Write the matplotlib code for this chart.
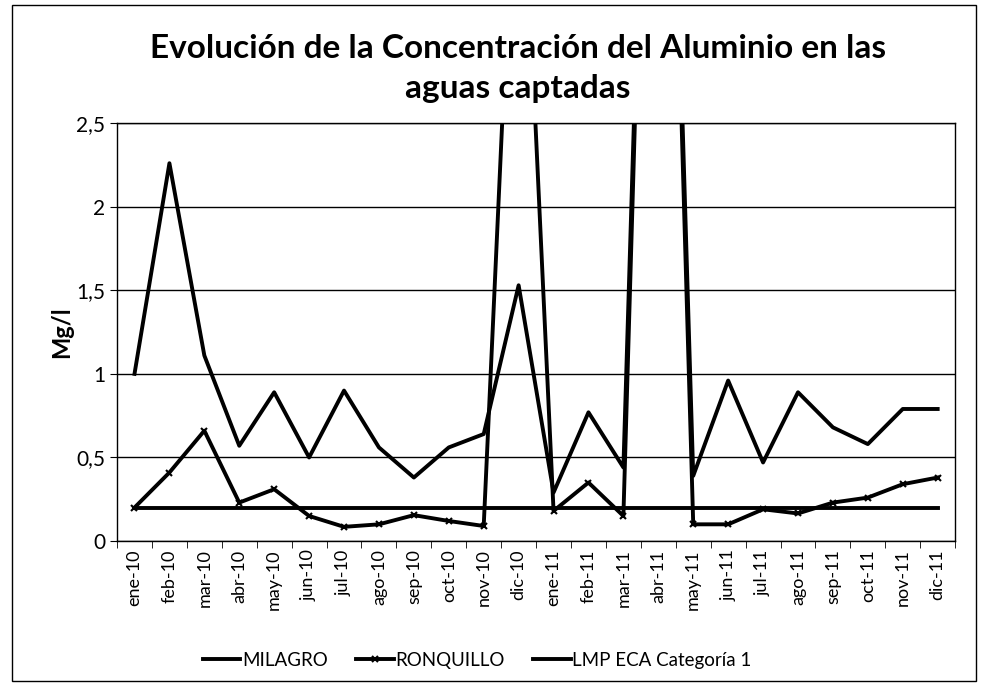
import numpy as np
import matplotlib.pyplot as plt
from matplotlib.patches import Rectangle

## data
meses = ['ene-10', 'feb-10', 'mar-10', 'abr-10', 'may-10', 'jun-10', 'jul-10', 'ago-10',
         'sep-10', 'oct-10', 'nov-10', 'dic-10', 'ene-11', 'feb-11', 'mar-11', 'abr-11',
         'may-11', 'jun-11', 'jul-11', 'ago-11', 'sep-11', 'oct-11', 'nov-11', 'dic-11']
milagro = [1.0, 2.26, 1.11, 0.57, 0.89, 0.50, 0.90, 0.56, 0.38, 0.56, 0.64, 1.53,
           0.29, 0.77, 0.44, 7.3, 0.39, 0.96, 0.47, 0.89, 0.68, 0.58, 0.79, 0.79]
ronquillo = [0.20, 0.41, 0.66, 0.23, 0.31, 0.15, 0.085, 0.10, 0.155, 0.12, 0.09, 4.65,
             0.18, 0.35, 0.15, 7.3, 0.10, 0.10, 0.19, 0.165, 0.23, 0.26, 0.34, 0.38]
lmp = [0.2] * 24

plt.rcParams['font.family'] = ['Lato', 'DejaVu Sans']

fig = plt.figure(figsize=(9.86, 6.84), dpi=100)
ax = fig.add_axes([0.1187, 0.209, 0.85, 0.611])

x = np.arange(len(meses))
ax.plot(x, milagro, color='black', lw=2.8, label='MILAGRO')
ax.plot(x, ronquillo, color='black', lw=2.8, marker='x', ms=4, mew=1.5, label='RONQUILLO')
ax.plot(x, lmp, color='black', lw=2.8, label='LMP ECA Categoría 1')

ax.set_ylim(0, 2.5)
ax.set_xlim(-0.5, 23.5)
ax.set_yticks([0, 0.5, 1, 1.5, 2, 2.5])
ax.set_yticklabels(['0', '0,5', '1', '1,5', '2', '2,5'], fontsize=15)
ax.yaxis.grid(True, color='black', lw=1)
ax.set_axisbelow(True)

ax.set_xticks(x)
ax.set_xticklabels(meses, rotation=90, fontsize=13)
ax.tick_params(axis='x', length=0, pad=6)
ax.set_xticks(np.arange(-0.5, 24, 1), minor=True)
ax.tick_params(axis='x', which='minor', length=5, color='black')
ax.tick_params(axis='y', length=5, color='black')

for s in ax.spines.values():
    s.set_color('black')
    s.set_linewidth(1)

ax.set_ylabel('Mg/l', fontsize=17, fontweight='bold', labelpad=2)

fig.text(0.525, 0.90, 'Evolución de la Concentración del Aluminio en las\naguas captadas',
         ha='center', va='center', fontsize=24, fontweight='bold', linespacing=1.45)

ax.legend(loc='upper center', bbox_to_anchor=(0.43, -0.225), ncol=3, frameon=False,
          fontsize=13.5, handlelength=2.0, handletextpad=0.1, columnspacing=1.5)

fig.patches.append(Rectangle((0.012, 0.005), 0.978, 0.988, transform=fig.transFigure,
                             fill=False, edgecolor='black', lw=1))

plt.savefig('out.png', dpi=100)
